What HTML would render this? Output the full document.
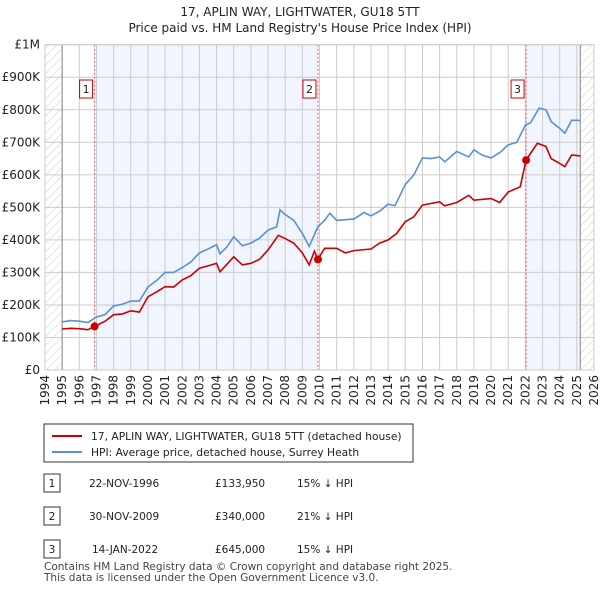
<!DOCTYPE html>
<html><head><meta charset="utf-8"><style>
body{margin:0;background:#fff;font-family:"DejaVu Sans",sans-serif;}
svg{display:block}
</style></head><body>
<svg id="c" width="600" height="590" xmlns="http://www.w3.org/2000/svg" font-family="DejaVu Sans, sans-serif">
<defs><pattern id="hatch" width="6" height="6" patternUnits="userSpaceOnUse" patternTransform="rotate(45)"><line x1="0" y1="0" x2="0" y2="6" stroke="#ccc" stroke-width="1"/></pattern></defs>
<text x="300" y="16" text-anchor="middle" font-size="12" fill="#222">17, APLIN WAY, LIGHTWATER, GU18 5TT</text>
<text x="300" y="32" text-anchor="middle" font-size="12" fill="#222">Price paid vs. HM Land Registry's House Price Index (HPI)</text>
<g id="plot"></g>
<g>
<rect x="44" y="424" width="369" height="38" fill="#fff" stroke="#333" stroke-width="1"/>
<line x1="52" y1="436" x2="82" y2="436" stroke="#cc0000" stroke-width="2"/>
<text x="91" y="440" font-size="10.7" fill="#222">17, APLIN WAY, LIGHTWATER, GU18 5TT (detached house)</text>
<line x1="52" y1="452" x2="82" y2="452" stroke="#5b8fd4" stroke-width="2"/>
<text x="91" y="456" font-size="10.7" fill="#222">HPI: Average price, detached house, Surrey Heath</text>
</g>
<g font-size="10.5" fill="#222">
<rect x="44" y="474" width="16" height="18" fill="#fff" stroke="#333"/><text x="52" y="487" text-anchor="middle">1</text>
<text x="89" y="487">22-NOV-1996</text><text x="215" y="487">£133,950</text><text x="297" y="487">15% ↓ HPI</text>
<rect x="44" y="507" width="16" height="18" fill="#fff" stroke="#333"/><text x="52" y="520" text-anchor="middle">2</text>
<text x="89" y="520">30-NOV-2009</text><text x="215" y="520">£340,000</text><text x="297" y="520">21% ↓ HPI</text>
<rect x="44" y="540" width="16" height="18" fill="#fff" stroke="#333"/><text x="52" y="553" text-anchor="middle">3</text>
<text x="92" y="553">14-JAN-2022</text><text x="215" y="553">£645,000</text><text x="297" y="553">15% ↓ HPI</text>
</g>
<text x="44" y="570" font-size="10.5" fill="#444">Contains HM Land Registry data © Crown copyright and database right 2025.</text>
<text x="44" y="581" font-size="10.5" fill="#444">This data is licensed under the Open Government Licence v3.0.</text>
</svg>
<script>
const hpiYears=[1995,1995.5,1996,1996.5,1997,1997.5,1998,1998.5,1999,1999.5,2000,2000.5,2001,2001.5,2002,2002.5,2003,2003.5,2004,2004.2,2004.6,2005,2005.5,2006,2006.5,2007,2007.5,2007.7,2008,2008.5,2009,2009.4,2009.9,2010.3,2010.6,2011,2011.5,2012,2012.6,2013,2013.5,2014,2014.4,2015,2015.5,2016,2016.5,2017,2017.3,2018,2018.7,2019,2019.5,2020,2020.5,2021,2021.5,2022,2022.3,2022.8,2023.2,2023.5,2024,2024.3,2024.7,2025.2];
const hpiValues=[148,152,150,146,163,170,197,202,212,212,255,275,300,300,315,332,360,372,385,357,378,410,382,390,405,430,440,492,478,460,420,380,440,460,482,460,462,464,484,474,488,510,505,570,600,652,650,655,640,672,655,677,660,652,668,692,700,753,760,805,800,764,743,728,768,767];
const ppYears=[1995,1995.5,1996,1996.5,1996.9,1997.5,1998,1998.5,1999,1999.5,2000,2000.5,2001,2001.5,2002,2002.5,2003,2003.5,2004,2004.2,2004.6,2005,2005.5,2006,2006.5,2007,2007.6,2008,2008.5,2009,2009.4,2009.7,2009.9,2010.3,2011,2011.5,2012,2013,2013.5,2014,2014.5,2015,2015.5,2016,2017,2017.3,2018,2018.7,2019,2020,2020.5,2021,2021.7,2022.04,2022.7,2023.2,2023.5,2024,2024.3,2024.7,2025.2];
const ppValues=[126,128,127,124,134,150,170,172,182,178,225,240,256,255,277,290,313,320,328,302,325,348,323,328,340,369,414,404,390,360,323,365,340,374,374,360,367,372,390,400,420,456,471,507,517,505,515,537,522,527,515,547,563,645,697,687,650,635,625,661,658];
const sales=[[1996.89,133.95,'1'],[2009.91,340,'2'],[2022.04,645,'3']];
const yTicks=[0,100,200,300,400,500,600,700,800,900,1000];
const yLabels=['£0','£100K','£200K','£300K','£400K','£500K','£600K','£700K','£800K','£900K','£1M'];
const X0=45,X1=594,Y0=370,Y1=44.7;
const x=y=>X0+(y-1994)/(2026-1994)*(X1-X0);
const yv=v=>Y0-v/1000*(Y0-Y1);
const NS='http://www.w3.org/2000/svg';
const g=document.getElementById('plot');
function mk(t,a,p){const e=document.createElementNS(NS,t);for(const k in a)e.setAttribute(k,a[k]);(p||g).appendChild(e);return e;}
let e;
e=mk('rect',{x:X0,y:Y1,width:x(1995)-X0,height:Y0-Y1,fill:'url(#hatch)'});


e=mk('rect',{x:x(2025.2),y:Y1,width:X1-x(2025.2),height:Y0-Y1,fill:'url(#hatch)'});


e=mk('rect',{x:x(sales[0][0]),y:Y1,width:x(sales[1][0])-x(sales[0][0]),height:Y0-Y1,fill:'#eef3fc',opacity:0.8});


e=mk('rect',{x:x(sales[2][0]),y:Y1,width:x(2025.2)-x(sales[2][0]),height:Y0-Y1,fill:'#eef3fc',opacity:0.8});


for(let yr=1994;yr<=2026;yr++){
 e=mk('line',{x1:x(yr),x2:x(yr),y1:Y1,y2:Y0,stroke:'#ccc','stroke-width':1});
 
 
 e=mk('text',{x:0,y:0,'font-size':12,fill:'#222','text-anchor':'end',transform:`translate(${x(yr)+4},${Y0+5}) rotate(-90)`});
 e.textContent=yr;
 
 
}
yTicks.forEach((v,i)=>{
 e=mk('line',{x1:X0,x2:X1,y1:yv(v),y2:yv(v),stroke:'#ccc','stroke-width':1});
 
 
 e=mk('text',{x:X0-5,y:yv(v)+4,'font-size':12,fill:'#222','text-anchor':'end'});
 e.textContent=yLabels[i];
 
 
});
e=mk('line',{x1:x(1995),x2:x(1995),y1:Y1,y2:Y0,stroke:'#888'});


e=mk('line',{x1:x(2025.2),x2:x(2025.2),y1:Y1,y2:Y0,stroke:'#888'});


sales.forEach(s=>{
 e=mk('line',{x1:x(s[0]),x2:x(s[0]),y1:Y1,y2:Y0,stroke:'#e06060','stroke-dasharray':'2,2'});
 
 
 e=mk('rect',{x:x(s[0])-10-5,y:80,width:13,height:18,fill:'#fff',stroke:'#cc0000'});
 
 
 e=mk('text',{x:x(s[0])-8.5,y:93,'font-size':11,'text-anchor':'middle',fill:'#222'});
 e.textContent=s[2];
 
 
});
e=mk('polyline',{points:hpiYears.map((t,i)=>x(t)+','+yv(hpiValues[i])).join(' '),fill:'none',stroke:'#5b8fd4','stroke-width':1.6});


e=mk('polyline',{points:ppYears.map((t,i)=>x(t)+','+yv(ppValues[i])).join(' '),fill:'none',stroke:'#cc0000','stroke-width':1.6});


sales.forEach(s=>{
 e=mk('circle',{cx:x(s[0]),cy:yv(s[1]),r:4,fill:'#cc0000'});
 
 
});
e=mk('rect',{x:X0,y:Y1,width:X1-X0,height:Y0-Y1,fill:'none',stroke:'#ccc'});


</script>
</body></html>
